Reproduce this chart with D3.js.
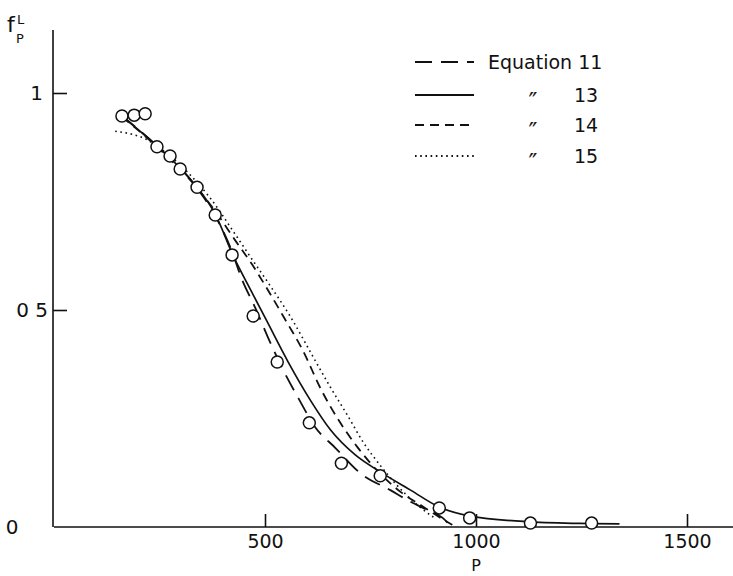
<!DOCTYPE html>
<html>
<head>
<meta charset="utf-8">
<script src="https://cdn.jsdelivr.net/npm/d3@7"></script>
<style>
  html, body { margin: 0; padding: 0; background: #fff; }
  svg { display: block; }
  text { font-family: "DejaVu Sans", sans-serif; fill: #111; }
</style>
</head>
<body>
<svg id="chart" width="733" height="576"></svg>
<script>
// Observed fractions f_P^L against P
const obsP = [161, 190, 216, 244, 275, 299, 339, 382, 422, 472, 529, 605, 681, 773, 913, 985, 1129, 1274];
const obsF = [0.947, 0.949, 0.952, 0.876, 0.855, 0.825, 0.783, 0.719, 0.627, 0.486, 0.380, 0.240, 0.147, 0.118, 0.044, 0.021, 0.009, 0.009];

// Equation 11 (long dash)
const eq11P = [161, 244, 339, 382, 422, 444, 477, 512, 543, 579, 619, 667, 726, 797, 845, 885, 921, 940];
const eq11F = [0.947, 0.878, 0.781, 0.717, 0.634, 0.574, 0.505, 0.426, 0.362, 0.297, 0.230, 0.182, 0.124, 0.085, 0.058, 0.039, 0.021, 0.002];

// Equation 13 (solid)
const eq13P = [161, 244, 299, 339, 382, 427, 465, 503, 555, 607, 655, 714, 773, 845, 913, 987, 1129, 1274, 1340];
const eq13F = [0.947, 0.878, 0.827, 0.783, 0.721, 0.620, 0.548, 0.477, 0.380, 0.293, 0.224, 0.166, 0.127, 0.085, 0.046, 0.025, 0.012, 0.008, 0.007];

// Equation 14 (short dash)
const eq14P = [161, 244, 339, 387, 429, 470, 510, 543, 588, 636, 674, 719, 750, 821, 868, 916, 944];
const eq14F = [0.945, 0.876, 0.781, 0.721, 0.661, 0.604, 0.541, 0.486, 0.410, 0.311, 0.247, 0.184, 0.147, 0.081, 0.051, 0.021, 0.005];

// Equation 15 (dotted)
const eq15P = [145, 221, 275, 323, 370, 427, 467, 508, 560, 614, 655, 695, 733, 773, 809, 833, 868, 900];
const eq15F = [0.912, 0.892, 0.855, 0.811, 0.758, 0.678, 0.620, 0.562, 0.485, 0.392, 0.322, 0.258, 0.195, 0.142, 0.100, 0.076, 0.045, 0.022];

const xTicks = [500, 1000, 1500];
const xTickLabels = ["500", "1000", "1500"];
const yTicks = [0.5, 1];
const yTickLabels = ["0 5", "1"];

const legendNames = ["Equation 11", "\u2033", "\u2033", "\u2033"];
const legendNumbers = ["", "13", "14", "15"];

const svg = d3.select("#chart");
const x = d3.scaleLinear().domain([0, 1500]).range([54, 687]);
const y = d3.scaleLinear().domain([0, 1]).range([527, 93]);

const ink = "#111";

// x axis: baseline runs to the right edge, ticks point up into the plot
const xAxis = d3.axisBottom(x)
  .tickValues(xTicks)
  .tickFormat((d, i) => xTickLabels[i])
  .tickSizeInner(-13)
  .tickSizeOuter(0)
  .tickPadding(8);
const gx = svg.append("g").attr("transform", `translate(0,${y(0)})`).call(xAxis);
gx.select(".domain").remove();
gx.selectAll(".tick line").attr("stroke", ink).attr("stroke-width", 1.6);
gx.selectAll(".tick text").attr("font-size", 19).attr("fill", ink).style("font-family", "DejaVu Sans");
svg.append("line")
  .attr("x1", x(0)).attr("x2", 733)
  .attr("y1", y(0)).attr("y2", y(0))
  .attr("stroke", ink).attr("stroke-width", 1.6);

// y axis: ticks point right into the plot
const yAxis = d3.axisLeft(y)
  .tickValues(yTicks)
  .tickFormat((d, i) => yTickLabels[i])
  .tickSizeInner(-14)
  .tickSizeOuter(0)
  .tickPadding(5);
const gy = svg.append("g").attr("transform", `translate(${x(0) - 1},0)`).call(yAxis);
gy.select(".domain").remove();
gy.selectAll(".tick line").attr("stroke", ink).attr("stroke-width", 1.6);
gy.selectAll(".tick text").attr("font-size", 20).attr("fill", ink).style("font-family", "DejaVu Sans");
gy.selectAll(".tick text").filter(d => d === 1).attr("x", -10);
svg.append("line")
  .attr("x1", x(0) - 1).attr("x2", x(0) - 1)
  .attr("y1", y(0)).attr("y2", 30)
  .attr("stroke", ink).attr("stroke-width", 1.6);

// shared origin label
svg.append("text").attr("x", 12).attr("y", y(0)).attr("dy", "0.36em")
  .attr("text-anchor", "middle").attr("font-size", 20).text("0");

// axis titles
svg.append("text").attr("x", x(1000)).attr("y", 571)
  .attr("text-anchor", "middle").attr("font-size", 16).text("P");
const yt = svg.append("g");
yt.append("text").attr("x", 7).attr("y", 32).attr("font-size", 22).text("f");
yt.append("text").attr("x", 17).attr("y", 24).attr("font-size", 13).text("L");
yt.append("text").attr("x", 16).attr("y", 43).attr("font-size", 13).text("P");

// fitted curves
const series = [
  { P: eq11P, F: eq11F, dash: "17,9", width: 1.8 },
  { P: eq13P, F: eq13F, dash: null, width: 1.7 },
  { P: eq14P, F: eq14F, dash: "9,6", width: 1.8 },
  { P: eq15P, F: eq15F, dash: "1.6,3.6", width: 1.6 }
];
const line = d3.line().x(d => x(d[0])).y(d => y(d[1])).curve(d3.curveMonotoneX);
series.forEach(s => {
  svg.append("path")
    .datum(s.P.map((p, i) => [p, s.F[i]]))
    .attr("d", line)
    .attr("fill", "none")
    .attr("stroke", ink)
    .attr("stroke-width", s.width)
    .attr("stroke-dasharray", s.dash);
});

// observed points
svg.append("g").selectAll("circle")
  .data(obsP.map((p, i) => [p, obsF[i]]))
  .join("circle")
  .attr("cx", d => x(d[0]))
  .attr("cy", d => y(d[1]))
  .attr("r", 6)
  .attr("fill", "#fff")
  .attr("stroke", ink)
  .attr("stroke-width", 1.5);

// legend
const legY = [62, 95, 125, 156];
const leg = svg.append("g");
series.forEach((s, i) => {
  leg.append("line")
    .attr("x1", 415).attr("x2", 474)
    .attr("y1", legY[i]).attr("y2", legY[i])
    .attr("stroke", ink).attr("stroke-width", s.width + 0.3)
    .attr("stroke-dasharray", s.dash);
  if (i === 0) {
    leg.append("text").attr("x", 488).attr("y", legY[i]).attr("dy", "0.36em")
      .attr("font-size", 19).text(legendNames[i]);
  } else {
    leg.append("text").attr("x", 533).attr("y", legY[i] + 15)
      .attr("text-anchor", "middle").attr("font-size", 24).text(legendNames[i]);
    leg.append("text").attr("x", 574).attr("y", legY[i]).attr("dy", "0.36em")
      .attr("font-size", 19).text(legendNumbers[i]);
  }
});
</script>
</body>
</html>
